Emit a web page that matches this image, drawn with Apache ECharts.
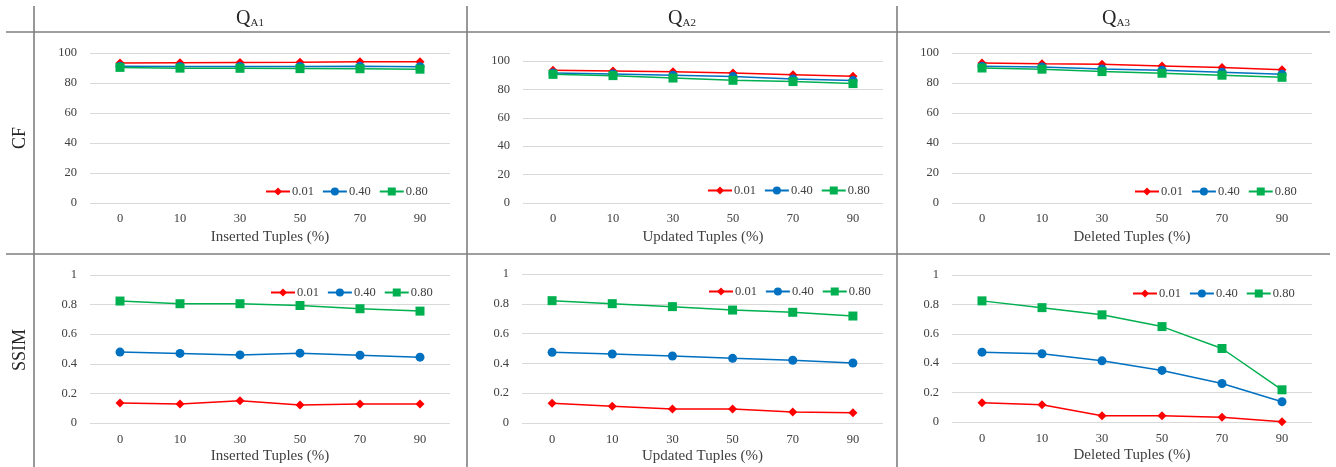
<!DOCTYPE html>
<html>
<head>
<meta charset="utf-8">
<script src="https://cdn.jsdelivr.net/npm/echarts@6/dist/echarts.min.js"></script>
<style>
  html, body { margin: 0; padding: 0; background: #fff; }
  #chart { width: 1336px; height: 467px; }
</style>
</head>
<body>
<div id="chart"></div>
<script>
// Modification ratio on the x axis (shared by every panel)
const xCats = ['0', '10', '30', '50', '70', '90'];
const seriesNames = ['0.01', '0.40', '0.80'];
const colNames = ['A1', 'A2', 'A3'];
const xTitles = ['Inserted Tuples (%)', 'Updated Tuples (%)', 'Deleted Tuples (%)'];
const rowNames = ['CF', 'SSIM'];

// CF values per query and threshold
const cfA1_001 = [93.4, 93.5, 93.6, 93.8, 94.1, 94.2];
const cfA1_040 = [91.2, 91.0, 91.0, 91.0, 91.1, 90.9];
const cfA1_080 = [90.4, 89.9, 89.8, 89.6, 89.5, 89.2];

const cfA2_001 = [93.5, 93.0, 92.5, 91.6, 90.4, 89.2];
const cfA2_040 = [91.6, 90.9, 90.0, 89.0, 87.4, 86.2];
const cfA2_080 = [90.6, 89.7, 88.0, 86.4, 85.5, 84.1];

const cfA3_001 = [93.4, 92.9, 92.5, 91.4, 90.3, 88.9];
const cfA3_040 = [91.2, 90.7, 89.4, 88.5, 87.2, 85.8];
const cfA3_080 = [90.0, 89.2, 87.6, 86.5, 85.2, 83.8];

// SSIM values per query and threshold
const ssA1_001 = [0.135, 0.129, 0.151, 0.122, 0.129, 0.129];
const ssA1_040 = [0.479, 0.470, 0.460, 0.472, 0.458, 0.445];
const ssA1_080 = [0.824, 0.806, 0.806, 0.794, 0.772, 0.756];

const ssA2_001 = [0.132, 0.112, 0.094, 0.094, 0.074, 0.069];
const ssA2_040 = [0.474, 0.463, 0.450, 0.434, 0.421, 0.403];
const ssA2_080 = [0.821, 0.801, 0.781, 0.758, 0.743, 0.718];

const ssA3_001 = [0.131, 0.118, 0.043, 0.043, 0.032, 0.002];
const ssA3_040 = [0.475, 0.464, 0.416, 0.351, 0.262, 0.138];
const ssA3_080 = [0.824, 0.778, 0.729, 0.649, 0.500, 0.219];

const cfData = [
  [cfA1_001, cfA1_040, cfA1_080],
  [cfA2_001, cfA2_040, cfA2_080],
  [cfA3_001, cfA3_040, cfA3_080]
];
const ssData = [
  [ssA1_001, ssA1_040, ssA1_080],
  [ssA2_001, ssA2_040, ssA2_080],
  [ssA3_001, ssA3_040, ssA3_080]
];

const FONT = '"Liberation Serif", "Times New Roman", serif';
const TXT = '#404040';
const colors = ['#FF0000', '#0070C0', '#00B050'];
const symbols = ['diamond', 'circle', 'rect'];
const symbolSizes = [9, 9, 9];

// panel layout: [left, top, width, height]
const gridBoxes = [
  [90, 53, 360, 150], [523, 61, 360, 142], [952, 53, 360, 150],
  [90, 275, 360, 148], [522, 274, 361, 149], [952, 275, 360, 147]
];
const legendPos = [
  [265, 185], [707, 184], [1134, 185],
  [270, 286], [708, 285], [1132, 287]
];

const grid = [], xAxis = [], yAxis = [], series = [], legend = [];

gridBoxes.forEach((b, i) => {
  const isCF = i < 3;
  const col = i % 3;
  grid.push({ left: b[0], top: b[1], width: b[2], height: b[3], containLabel: false });
  xAxis.push({
    type: 'category', gridIndex: i, data: xCats, boundaryGap: true,
    axisLine: { show: false }, axisTick: { show: false },
    axisLabel: { color: TXT, fontFamily: FONT, fontSize: 12.5, margin: isCF ? 9 : 10 },
    name: xTitles[col], nameLocation: 'middle', nameGap: isCF ? 27 : 26,
    nameTextStyle: { color: TXT, fontFamily: FONT, fontSize: 15 }
  });
  yAxis.push({
    type: 'value', gridIndex: i,
    min: 0, max: isCF ? 100 : 1, interval: isCF ? 20 : 0.2,
    axisLine: { show: false }, axisTick: { show: false },
    axisLabel: { color: TXT, fontFamily: FONT, fontSize: 12.5, margin: 13 },
    splitLine: { lineStyle: { color: '#D9D9D9', width: 1 } }
  });
  const data = isCF ? cfData[col] : ssData[col];
  data.forEach((vals, k) => {
    series.push({
      name: seriesNames[k], type: 'line', xAxisIndex: i, yAxisIndex: i,
      data: vals, symbol: symbols[k], symbolSize: symbolSizes[k],
      lineStyle: { color: colors[k], width: 1.5 },
      itemStyle: { color: colors[k] },
      z: 2 + k, animation: false
    });
  });
  legend.push({
    left: legendPos[i][0], top: legendPos[i][1], padding: 0,
    data: seriesNames, itemWidth: 24, itemHeight: 10, itemGap: 8,
    textStyle: { color: TXT, fontFamily: FONT, fontSize: 12.5, padding: [0, 0, 0, -3] },
    selectedMode: false
  });
});

// table frame and headers
const lineStyle = { stroke: '#7F7F7F', lineWidth: 1.6 };
const graphic = [
  { type: 'line', shape: { x1: 6, y1: 32, x2: 1330, y2: 32 }, style: lineStyle },
  { type: 'line', shape: { x1: 6, y1: 254, x2: 1330, y2: 254 }, style: lineStyle },
  { type: 'line', shape: { x1: 34, y1: 6, x2: 34, y2: 467 }, style: lineStyle },
  { type: 'line', shape: { x1: 467, y1: 6, x2: 467, y2: 467 }, style: lineStyle },
  { type: 'line', shape: { x1: 897, y1: 6, x2: 897, y2: 467 }, style: lineStyle }
];
const headerX = [250, 682, 1116];
colNames.forEach((c, j) => {
  graphic.push({
    type: 'text', x: headerX[j], y: 19,
    style: {
      text: '{q|Q}{s|' + c + '}', align: 'center', verticalAlign: 'middle',
      rich: {
        q: { fontFamily: FONT, fontSize: 20, fill: '#262626' },
        s: { fontFamily: FONT, fontSize: 11, fill: '#262626', verticalAlign: 'bottom', padding: [7, 0, 0, 0] }
      }
    }
  });
});
const rowY = [138, 350];
rowNames.forEach((r, j) => {
  graphic.push({
    type: 'text', x: 20, y: rowY[j], rotation: Math.PI / 2,
    style: { text: r, align: 'center', verticalAlign: 'middle', fontFamily: FONT, fontSize: 18, fill: '#262626' }
  });
});

const chart = echarts.init(document.getElementById('chart'), null, { renderer: 'canvas' });
chart.setOption({
  animation: false,
  backgroundColor: '#fff',
  grid, xAxis, yAxis, series, legend, graphic
});
</script>
</body>
</html>
